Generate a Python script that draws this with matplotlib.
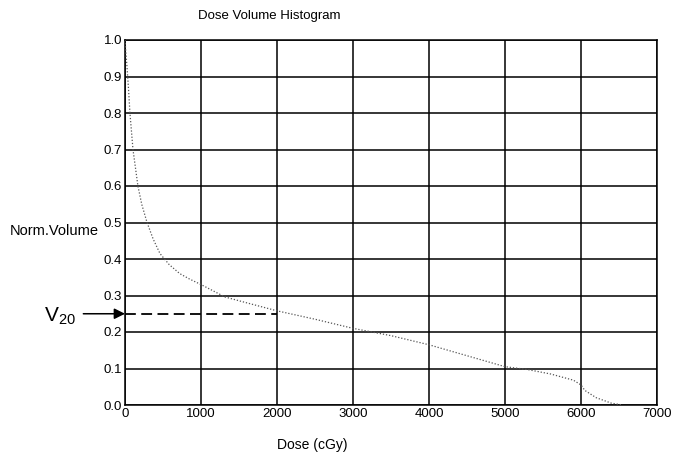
import matplotlib
matplotlib.use("Agg")
from matplotlib import pyplot as plt
import numpy as np

plt.rcParams['font.family'] = ['Liberation Sans', 'DejaVu Sans']
plt.rcParams['mathtext.fontset'] = 'custom'
plt.rcParams['mathtext.rm'] = 'Liberation Sans'

# DVH curve
dose = [0, 10, 25, 45, 65, 105, 170, 220, 290, 370, 460, 580, 720, 850, 1000,
        1315, 1600, 2000, 2500, 3000, 3500, 4000, 4500, 5000, 5300, 5600, 5900,
        6000, 6050, 6200, 6400, 6550]
volume = [1.0, 0.97, 0.93, 0.87, 0.8, 0.7, 0.6, 0.55, 0.5, 0.455, 0.415, 0.385, 0.36,
          0.345, 0.33, 0.296, 0.28, 0.258, 0.235, 0.21, 0.19, 0.165, 0.135, 0.105,
          0.097, 0.085, 0.068, 0.055, 0.04, 0.02, 0.005, 0.0]

v20_dose = 2000
v20_value = 0.25

x_ticks = [0, 1000, 2000, 3000, 4000, 5000, 6000, 7000]
y_ticks = [0.0, 0.1, 0.2, 0.3, 0.4, 0.5, 0.6, 0.7, 0.8, 0.9, 1.0]

fig = plt.figure(figsize=(6.74, 4.57), dpi=100)
ax = fig.add_axes([125/674, 1 - 405/457, (657 - 125)/674, (405 - 40)/457])

ax.set_xlim(0, 7000)
ax.set_ylim(0, 1.0)
ax.set_xticks(x_ticks)
ax.set_yticks(y_ticks)
ax.set_xticklabels([str(t) for t in x_ticks])
ax.set_yticklabels(["%.1f" % t for t in y_ticks])
ax.tick_params(length=0, labelsize=9.5, pad=2)
ax.grid(True, color='black', lw=1.1)
for s in ax.spines.values():
    s.set_linewidth(1.1)

# the curve, faint and dotted like the scan
ax.plot(dose, volume, color='#555555', lw=0.9, ls=(0, (1, 1.5)), zorder=3)

# V20 marker
ax.plot([0, v20_dose], [v20_value, v20_value], color='black', lw=1.3,
        ls=(0, (6, 3)), zorder=4)
ax.annotate('', xy=(0, v20_value), xytext=(-30, 0), textcoords='offset points',
            xycoords='data',
            arrowprops=dict(arrowstyle='-|>', color='black', lw=1.1,
                            mutation_scale=16, shrinkA=0, shrinkB=0),
            annotation_clip=False)
fig.text(44/674, 1 - 316/457, r'$\mathrm{V}_{20}$', fontsize=15, va='center')

fig.text(269/674, 1 - 16/457, 'Dose Volume Histogram', ha='center', va='center', fontsize=9.5)
fig.text(312/674, 1 - 445/457, 'Dose (cGy)', ha='center', va='center', fontsize=10)
fig.text(10/674, 1 - 231/457, 'Norm.Volume', ha='left', va='center', fontsize=10.5)

fig.savefig('out.png', dpi=100)
